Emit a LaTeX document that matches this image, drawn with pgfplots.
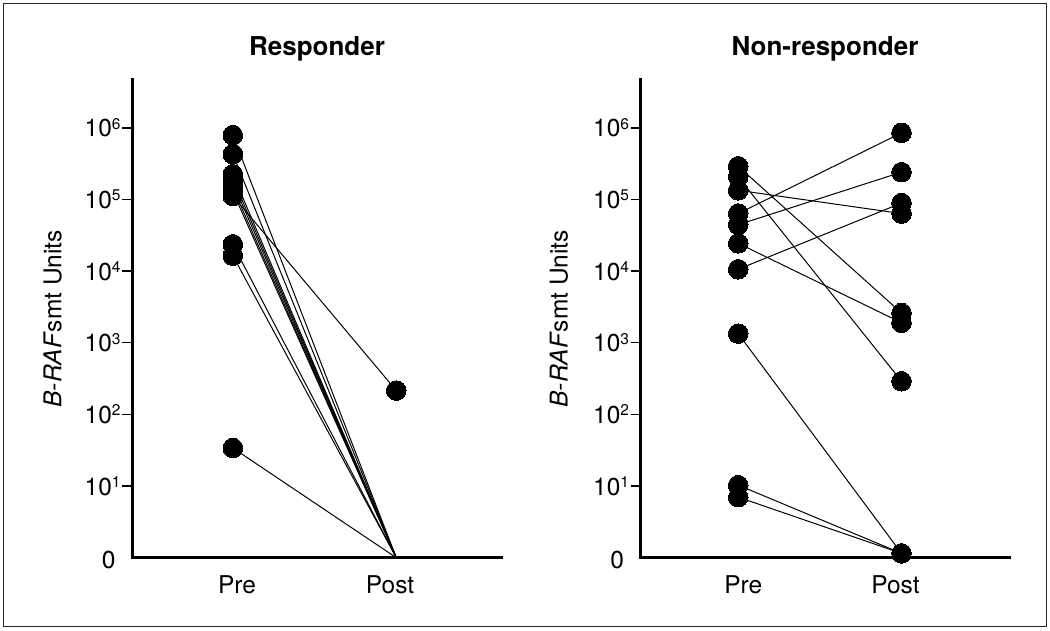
\documentclass[border=0pt]{standalone}
\usepackage{fontspec}
\setmainfont{TeX Gyre Heros}
\usepackage{pgfplots}
\pgfplotsset{compat=1.18}
\newcommand{\tp}[1]{10\raisebox{7.5pt}{\fontsize{15.5}{15.5}\selectfont #1}}
\begin{document}
\begin{tikzpicture}
\useasboundingbox (0,0) rectangle (1050pt,630pt);
\draw[line width=1.5pt, black!85] (3.5pt,3.5pt) rectangle (1046.5pt,626.5pt);

% Responder
\begin{axis}[at={(132.3pt,72.3pt)}, anchor=south west,
    scale only axis, width=369.4pt, height=477.7pt,
    ymode=log, ymin=1, ymax=4.64e6,
    xmin=-0.615, xmax=1.645, xtick={0.026,0.962}, xticklabels={Pre,Post},
    axis lines=left,
    axis line style={line width=3pt, -, line cap=rect},
    clip=false,
    tick align=outside,
    major tick length=10pt,
    ytick={10,100,1000,10000,100000,1000000},
    yticklabels={\tp{1},\tp{2},\tp{3},\tp{4},\tp{5},\tp{6}},
    extra y ticks={1},
    extra y tick labels={0},
    extra y tick style={major tick length=0pt, yticklabel style={xshift=-15pt, yshift=-2pt}},
    ytick style={line width=1.5pt, black},
    minor tick style={draw=none},
    xtick style={draw=none},
    yticklabel style={font=\fontsize{24.5}{28}\selectfont, inner sep=1.5pt},
    xticklabel style={font=\fontsize{24.5}{28}\selectfont, anchor=base, yshift=-25.6pt},
    title style={font=\fontsize{26}{30}\selectfont\bfseries, at={(axis description cs:0.5,1)}, anchor=base, yshift=18pt},
    title={Responder},
    ylabel={\textit{B-RAF}smt Units},
    ylabel style={font=\fontsize{24.5}{28}\selectfont, anchor=base, at={(axis description cs:-0.1917,0.5)}}]
\addplot[black, line width=1pt, no marks] coordinates {(0,7.9e5) (1,1)};
\addplot[black, line width=1pt, no marks] coordinates {(0,4.3e5) (1,1)};
\addplot[black, line width=1pt, no marks] coordinates {(0,2.25e5) (1,1)};
\addplot[black, line width=1pt, no marks] coordinates {(0,1.95e5) (1,1)};
\addplot[black, line width=1pt, no marks] coordinates {(0,1.7e5) (1,1)};
\addplot[black, line width=1pt, no marks] coordinates {(0,1.45e5) (1,1)};
\addplot[black, line width=1pt, no marks] coordinates {(0,1.28e5) (1,1)};
\addplot[black, line width=1pt, no marks] coordinates {(0,1.12e5) (1,215)};
\addplot[black, line width=1pt, no marks] coordinates {(0,2.36e4) (1,1)};
\addplot[black, line width=1pt, no marks] coordinates {(0,1.64e4) (1,1)};
\addplot[black, line width=1pt, no marks] coordinates {(0,34) (1,1)};
\addplot[only marks, mark=*, mark size=9.8pt, mark options={fill=black, draw=black, line width=0pt}] coordinates {(0,7.9e5) (0,4.3e5) (0,2.25e5) (0,1.95e5) (0,1.7e5) (0,1.45e5) (0,1.28e5) (0,1.12e5) (0,2.36e4) (0,1.64e4) (0,34) (1,215)};
\end{axis}

% Non-responder
\begin{axis}[at={(640.7pt,72.3pt)}, anchor=south west,
    scale only axis, width=368.6pt, height=477.7pt,
    ymode=log, ymin=1, ymax=4.64e6,
    xmin=-0.597, xmax=1.66, xtick={0.031,0.963}, xticklabels={Pre,Post},
    axis lines=left,
    axis line style={line width=3pt, -, line cap=rect},
    clip=false,
    tick align=outside,
    major tick length=10pt,
    ytick={10,100,1000,10000,100000,1000000},
    yticklabels={\tp{1},\tp{2},\tp{3},\tp{4},\tp{5},\tp{6}},
    extra y ticks={1},
    extra y tick labels={0},
    extra y tick style={major tick length=0pt, yticklabel style={xshift=-15pt, yshift=-2pt}},
    ytick style={line width=1.5pt, black},
    minor tick style={draw=none},
    xtick style={draw=none},
    yticklabel style={font=\fontsize{24.5}{28}\selectfont, inner sep=1.5pt},
    xticklabel style={font=\fontsize{24.5}{28}\selectfont, anchor=base, yshift=-25.6pt},
    title style={font=\fontsize{26}{30}\selectfont\bfseries, at={(axis description cs:0.5,1)}, anchor=base, yshift=18pt},
    title={Non-responder},
    ylabel={\textit{B-RAF}smt Units},
    ylabel style={font=\fontsize{24.5}{28}\selectfont, anchor=base, at={(axis description cs:-0.1986,0.5)}}]
\addplot[black, line width=1pt, no marks] coordinates {(0,2.9e5) (1,2.6e3)};
\addplot[black, line width=1pt, no marks] coordinates {(0,2.06e5) (1,290)};
\addplot[black, line width=1pt, no marks] coordinates {(0,1.34e5) (1,6.35e4)};
\addplot[black, line width=1pt, no marks] coordinates {(0,6.35e4) (1,8.5e5)};
\addplot[black, line width=1pt, no marks] coordinates {(0,4.43e4) (1,2.4e5)};
\addplot[black, line width=1pt, no marks] coordinates {(0,2.44e4) (1,1.9e3)};
\addplot[black, line width=1pt, no marks] coordinates {(0,1.06e4) (1,8.9e4)};
\addplot[black, line width=1pt, no marks] coordinates {(0,1.34e3) (1,1.15)};
\addplot[black, line width=1pt, no marks] coordinates {(0,10.3) (1,1.15)};
\addplot[black, line width=1pt, no marks] coordinates {(0,7.0) (1,1.15)};
\addplot[only marks, mark=*, mark size=9.8pt, mark options={fill=black, draw=black, line width=0pt}] coordinates {(0,2.9e5) (0,2.06e5) (0,1.34e5) (0,6.35e4) (0,4.43e4) (0,2.44e4) (0,1.06e4) (0,1.34e3) (0,10.3) (0,7.0)
  (1,8.5e5) (1,2.4e5) (1,8.9e4) (1,6.35e4) (1,2.6e3) (1,1.9e3) (1,290) (1,1.15)};
\end{axis}
\end{tikzpicture}
\end{document}
